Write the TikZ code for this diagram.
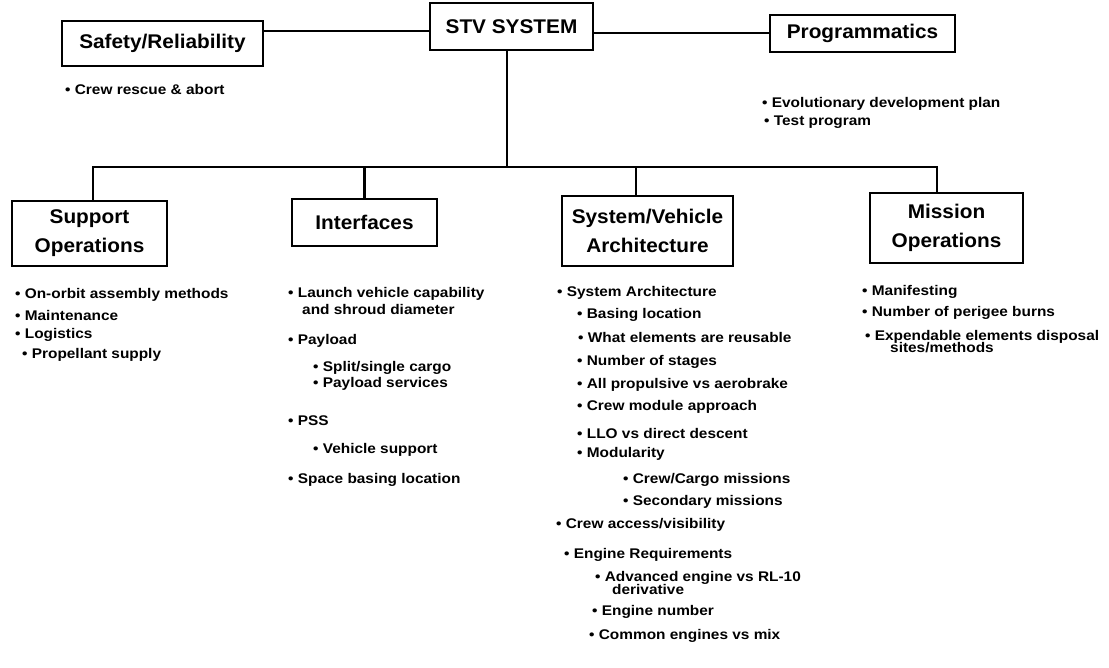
\documentclass[tikz,border=0pt]{standalone}
\usepackage{fontspec}
\setmainfont{Liberation Sans}
\newfontfamily\boxfont{Liberation Sans}[FakeStretch=1.05]
\newfontfamily\listfont{Liberation Sans}[FakeStretch=1.1]
\begin{document}
\begin{tikzpicture}[x=1pt,y=-1pt,
  box/.style={draw, line width=2.5pt, inner sep=0pt, align=center,
    font=\boxfont\bfseries\fontsize{19.8}{29}\selectfont},
  conn/.style={line width=2.2pt},
  item/.style={anchor=west, inner sep=0pt,
    font=\listfont\bfseries\fontsize{14}{14}\selectfont}]
\useasboundingbox[fill=white] (0,0) rectangle (1109,668);

% top level
\node[box, minimum width=163, minimum height=47] (stv) at (511.5,26.5) {STV SYSTEM};
\node[box, minimum width=201, minimum height=45] (safety) at (162.5,43.5) {Safety/Reliability};
\node[box, minimum width=185, minimum height=37] (prog) at (862.5,33.5) {Programmatics};

\draw[conn] (stv.west |- 0,31) -- (safety.east |- 0,31);
\draw[conn] (stv.east |- 0,33) -- (prog.west |- 0,33);

\node[item] (sf1) at (65,89) {\textbullet\ Crew rescue \& abort};
\node[item] (pg1) at (762,104) {\textbullet\ Evolutionary development plan};
\node[item] (pg2) at (764,122) {\textbullet\ Test program};

% second level
\node[box, minimum width=155, minimum height=65] (supp) at (89.5,233.5) {Support\\Operations};
\node[box, minimum width=145, minimum height=47] (intf) at (364.5,222.5) {Interfaces};
\node[box, minimum width=171, minimum height=70] (sva) at (647.5,231) {System/Vehicle\\Architecture};
\node[box, minimum width=153, minimum height=70] (mo) at (946.5,228) {Mission\\Operations};

% branching bus
\coordinate (trunk) at (507,167);
\coordinate (busL) at (93,167);
\coordinate (busR) at (937,167);
\coordinate (dropS) at (636,167);
\draw[conn] (stv.south -| trunk) -- (trunk);
\draw[conn] (supp.north -| busL) -- (busL) -- (busR) -- (mo.north -| busR);
\draw[conn] (intf.north) -- (intf.north |- busL);
\draw[conn] (dropS) -- (sva.north -| dropS);

% Support Operations
\node[item] (so1) at (15,295) {\textbullet\ On-orbit assembly methods};
\node[item] (so2) at (15,315) {\textbullet\ Maintenance};
\node[item] (so3) at (15,335) {\textbullet\ Logistics};
\node[item] (so4) at (22,355) {\textbullet\ Propellant supply};

% Interfaces
\node[item] (if1) at (288,294) {\textbullet\ Launch vehicle capability};
\node[item] (if1b) at (302,309) {and shroud diameter};
\node[item] (if2) at (288,341) {\textbullet\ Payload};
\node[item] (if3) at (313,368) {\textbullet\ Split/single cargo};
\node[item] (if4) at (313,384) {\textbullet\ Payload services};
\node[item] (if5) at (288,421) {\textbullet\ PSS};
\node[item] (if6) at (313,450) {\textbullet\ Vehicle support};
\node[item] (if7) at (288,480) {\textbullet\ Space basing location};

% System/Vehicle Architecture
\node[item] (sv1) at (557,293) {\textbullet\ System Architecture};
\node[item] (sv2) at (577,315) {\textbullet\ Basing location};
\node[item] (sv3) at (578,337) {\textbullet\ What elements are reusable};
\node[item] (sv4) at (577,362) {\textbullet\ Number of stages};
\node[item] (sv5) at (577,385) {\textbullet\ All propulsive vs aerobrake};
\node[item] (sv6) at (577,407) {\textbullet\ Crew module approach};
\node[item] (sv7) at (577,433) {\textbullet\ LLO vs direct descent};
\node[item] (sv8) at (577,454) {\textbullet\ Modularity};
\node[item] (sv9) at (623,480) {\textbullet\ Crew/Cargo missions};
\node[item] (sv10) at (623,502) {\textbullet\ Secondary missions};
\node[item] (sv11) at (556,525) {\textbullet\ Crew access/visibility};
\node[item] (sv12) at (564,555) {\textbullet\ Engine Requirements};
\node[item] (sv13) at (595,578) {\textbullet\ Advanced engine vs RL-10};
\node[item] (sv13b) at (612,589) {derivative};
\node[item] (sv14) at (592,612) {\textbullet\ Engine number};
\node[item] (sv15) at (589,636) {\textbullet\ Common engines vs mix};

% Mission Operations
\node[item] (mo1) at (862,292) {\textbullet\ Manifesting};
\node[item] (mo2) at (862,313) {\textbullet\ Number of perigee burns};
\node[item] (mo3) at (865,337) {\textbullet\ Expendable elements disposal};
\node[item] (mo3b) at (890,348) {sites/methods};
\end{tikzpicture}
\end{document}
